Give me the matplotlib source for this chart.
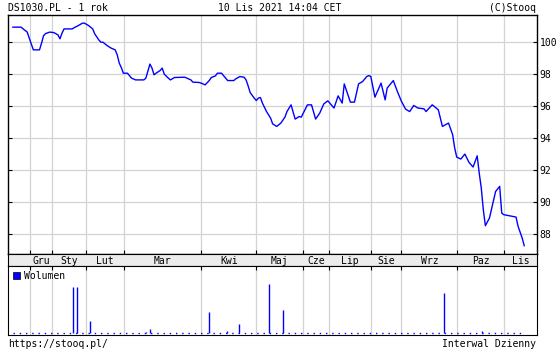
import matplotlib.pyplot as plt
from matplotlib.patches import Patch

plt.rcParams['font.family'] = 'DejaVu Sans Mono'
plt.rcParams['font.size'] = 7

# session number -> closing price
sessions = [0, 4, 5, 7, 8, 9, 10, 13, 14, 15, 16, 18, 20, 22, 23, 24, 25, 29, 30, 32,
            34, 35, 37, 39, 40, 42, 43, 44, 46, 48, 50, 51, 52, 53, 54, 56, 58, 60, 64, 65,
            67, 68, 69, 70, 72, 73, 74, 76, 77, 79, 84, 87, 88, 91, 92, 94, 96, 97, 99, 100,
            102, 104, 105, 108, 109, 111, 113, 114, 115, 116, 118, 119, 120, 121, 122, 124, 126, 127, 129, 131,
            133, 134, 136, 138, 140, 141, 144, 146, 148, 150, 152, 154, 157, 159, 161, 162, 165, 167, 169, 171,
            173, 174, 175, 177, 180, 182, 183, 186, 188, 190, 192, 194, 196, 198, 201, 202, 205, 206, 208, 210,
            213, 215, 216, 217, 219, 221, 223, 225, 227, 228, 229, 230, 231, 233, 234, 236, 238, 239, 240, 246,
            247, 249, 250]
prices = [100.94, 100.94, 100.83, 100.63, 100.25, 99.88, 99.52, 99.52, 99.94, 100.41,
          100.54, 100.63, 100.60, 100.46, 100.21, 100.56, 100.83, 100.83, 100.91, 101.04,
          101.19, 101.19, 101.04, 100.83, 100.52, 100.14, 100.00, 100.00, 99.79, 99.63,
          99.52, 99.21, 98.69, 98.41, 98.06, 98.06, 97.75, 97.64, 97.64, 97.75,
          98.63, 98.38, 97.96, 98.06, 98.23, 98.38, 98.00, 97.75, 97.64, 97.79,
          97.81, 97.64, 97.50, 97.48, 97.44, 97.33, 97.60, 97.79, 97.89, 98.06,
          98.06, 97.75, 97.60, 97.60, 97.71, 97.85, 97.81, 97.64, 97.27, 96.85,
          96.50, 96.35, 96.50, 96.54, 96.19, 95.66, 95.25, 94.89, 94.73, 94.94,
          95.31, 95.66, 96.08, 95.19, 95.35, 95.31, 96.08, 96.08, 95.19, 95.56,
          96.14, 96.33, 95.88, 96.64, 96.19, 97.39, 96.25, 96.25, 97.39, 97.54,
          97.85, 97.91, 97.85, 96.56, 97.44, 96.39, 97.13, 97.60, 96.91, 96.29,
          95.81, 95.66, 96.04, 95.88, 95.83, 95.66, 96.08, 95.98, 95.77, 94.73,
          94.94, 94.21, 93.38, 92.81, 92.69, 93.00, 92.48, 92.19, 92.89, 91.81,
          90.88, 89.52, 88.52, 89.00, 89.56, 90.66, 90.98, 89.31, 89.21, 89.06,
          88.48, 87.75, 87.27]

vol_sessions = [29.5, 31.4, 37.8, 64.9, 67.1, 96.0, 104.5, 110.7, 125.3, 131.9, 210.9, 229.5]
volumes = [46, 46, 12, 1.5, 4, 21, 2.5, 9, 49, 23, 40, 2]

month_edges = [8.5, 19.2, 35.8, 54.4, 92.1, 119.0, 142.0, 154.7, 175.2, 189.9, 217.3, 240.3, 256.1]
month_names = ['Gru', 'Sty', 'Lut', 'Mar', 'Kwi', 'Maj', 'Cze', 'Lip', 'Sie', 'Wrz', 'Paz', 'Lis']
price_ticks = [88, 90, 92, 94, 96, 98, 100]

xlim = (-2.4, 256.1)
grid_color = '#d3d3d3'

fig = plt.figure(figsize=(5.6, 3.5), dpi=100)
ax = fig.add_axes([8 / 560, 1 - 254 / 350, 528.7 / 560, 239 / 350])
ax_m = fig.add_axes([8 / 560, 1 - 266 / 350, 528.7 / 560, 12 / 350])
ax_v = fig.add_axes([8 / 560, 1 - 335 / 350, 528.7 / 560, 69 / 350])

# price panel
ax.plot(sessions, prices, color='blue', lw=1)
ax.set_xlim(*xlim)
ax.set_ylim(86.75, 101.7)
ax.set_yticks(price_ticks)
ax.set_xticks(month_edges[:-1])
ax.set_xticklabels([])
ax.grid(color=grid_color, lw=0.9)
ax.set_axisbelow(True)
ax.tick_params(axis='y', left=True, right=True, labelleft=False, labelright=True,
               direction='in', length=3, width=0.8, pad=2)
ax.tick_params(axis='x', bottom=True, direction='in', length=3, width=0.8)
for s in ax.spines.values():
    s.set_linewidth(1)

# month band
ax_m.set_facecolor('#ececec')
ax_m.set_xlim(*xlim)
ax_m.set_ylim(0, 1)
ax_m.set_xticks([])
ax_m.set_yticks([])
for i, name in enumerate(month_names):
    ax_m.text((month_edges[i] + month_edges[i + 1]) / 2, 0.45, name,
              ha='center', va='center')

# volume panel
ax_v.vlines(vol_sessions, 0, volumes, color='blue', lw=1)
ax_v.hlines(0, sessions[0], sessions[-1], color='blue', lw=1, linestyles=(0, (1, 3.5)))
ax_v.set_xlim(*xlim)
ax_v.set_ylim(-1.7, 67.5)
ax_v.set_xticks(month_edges[:-1])
ax_v.set_xticklabels([])
ax_v.set_yticks([])
ax_v.grid(axis='x', color=grid_color, lw=0.9)
ax_v.set_axisbelow(True)
ax_v.tick_params(axis='x', bottom=False, top=True, direction='in', length=3, width=0.8)
ax_v.legend(handles=[Patch(facecolor='blue', edgecolor='black', lw=0.5, label='Wolumen')],
            loc='upper left', frameon=False, handlelength=0.7, handleheight=0.7,
            handletextpad=0.4, borderaxespad=0.3, borderpad=0.2)

fig.text(8 / 560, 1 - 8 / 350, 'DS1030.PL - 1 rok', ha='left', va='center')
fig.text(280 / 560, 1 - 8 / 350, '10 Lis 2021 14:04 CET', ha='center', va='center')
fig.text(536 / 560, 1 - 8 / 350, '(C)Stooq', ha='right', va='center')
fig.text(8 / 560, 1 - 344 / 350, 'https://stooq.pl/', ha='left', va='center')
fig.text(536 / 560, 1 - 344 / 350, 'Interwal Dzienny', ha='right', va='center')

fig.savefig('out.png', dpi=100)
